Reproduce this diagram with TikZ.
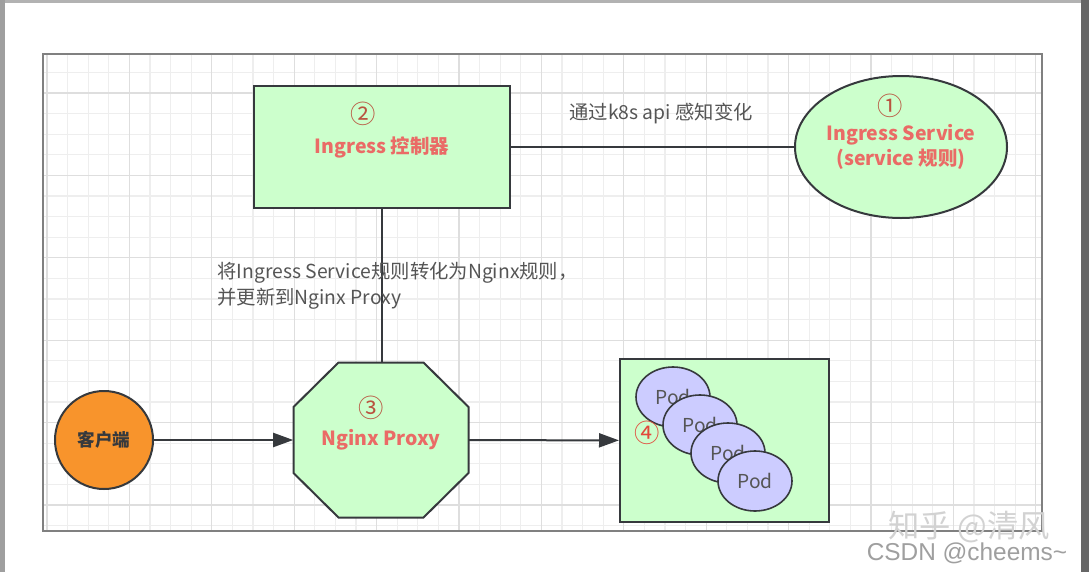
\documentclass[tikz,border=0pt]{standalone}
\usepackage{fontspec}
\setmainfont{Noto Sans CJK SC}
\newfontfamily\wmfont{Liberation Sans}
\usetikzlibrary{positioning,shapes.geometric,arrows.meta,calc}
\definecolor{boxgreen}{HTML}{CCFFCC}
\definecolor{podblue}{HTML}{CCCCFF}
\definecolor{clientorange}{HTML}{F8942C}
\definecolor{edgegray}{HTML}{36393D}
\definecolor{titlered}{HTML}{EA6B66}
\definecolor{numred}{HTML}{B9533F}
\definecolor{fourred}{HTML}{E2483A}
\definecolor{notegray}{HTML}{555555}
\definecolor{gridminor}{HTML}{EEEEEE}
\definecolor{gridmajor}{HTML}{DEDEDE}

\begin{document}
\begin{tikzpicture}[
                x=0.75pt,y=-0.75pt,
                box/.style={draw=edgegray,line width=1.5pt,fill=boxgreen},
                title/.style={text=titlered,align=center,
                    font=\bfseries\fontsize{14.6}{18.5}\selectfont},
                num/.style={text=numred,inner sep=0pt,font=\fontsize{19}{20}\selectfont},
                note/.style={text=notegray,align=left,
                    font=\fontsize{14.5}{19.5}\selectfont},
                pod/.style={ellipse,draw=edgegray,line width=1.2pt,fill=podblue,
                    minimum width=55.5pt,minimum height=45pt,text=notegray,
                    font=\fontsize{14.4}{16}\selectfont},
                link/.style={draw=edgegray,line width=1.5pt},
                flow/.style={link,-{Triangle[length=15pt,width=10.5pt]}}
            ]
                \fill[white] (0,0) rectangle (1089,572);
                \fill[gray!60] (0,0) rectangle (1089,3);
                \fill[gray!75] (0,0) rectangle (5,572);
                \fill[gray!80!black] (1081,0) rectangle (1089,572);
                \useasboundingbox (0,0) rectangle (1089,572);

                \begin{scope}
                    \clip (43,54) rectangle (1042,531);
                    \foreach \i [evaluate=\i as \gx using 47+20.6*\i] in {0,...,48}
                        \draw[gridminor,line width=1pt] (\gx,54) -- (\gx,531);
                    \foreach \j [evaluate=\j as \gy using 51.8+20.6*\j] in {0,...,23}
                        \draw[gridminor,line width=1pt] (43,\gy) -- (1042,\gy);
                    \foreach \i [evaluate=\i as \gx using 47+20.6*\i] in {0,4,...,48}
                        \draw[gridmajor,line width=1pt] (\gx,54) -- (\gx,531);
                    \foreach \j [evaluate=\j as \gy using 51.8+20.6*\j] in {2,6,...,22}
                        \draw[gridmajor,line width=1pt] (43,\gy) -- (1042,\gy);
                \end{scope}
                \draw[gray,line width=1pt] (43,54) rectangle (1042,531);

                \node[box,title,minimum width=192pt,minimum height=91.5pt] (ctrl) at (382,147) {Ingress 控制器};
                \node[num] (n2) at (363,114) {②};
                \node[box,title,ellipse,inner sep=0pt,minimum width=159pt,minimum height=106.5pt] (svc) at (901,147)
                    {Ingress Service\\(service 规则)};
                \node[num] (n1) at (890,106) {①};
                \coordinate (nc) at (381,440);
                \draw[box] ($(nc)+(-42.5,-77.5)$) -- ++(85,0) -- ++(45,44.5) -- ++(0,66)
                    -- ++(-45,44.5) -- ++(-85,0) -- ++(-45,-44.5) -- ++(0,-66) -- cycle;
                \node[title,minimum width=131.25pt,minimum height=116.25pt] (nginx) at (nc) {Nginx Proxy};
                \node[num] (n3) at (371,408) {③};
                \node[circle,draw=edgegray,line width=1.5pt,fill=clientorange,minimum size=73.5pt,
                    text=edgegray,font=\bfseries\fontsize{13.2}{15}\selectfont] (client) at (104,440) {客户端};
                \node[box,minimum width=156.75pt,minimum height=122.25pt] (pods) at (724.5,440.5) {};
                \foreach \k/\cx/\cy in {1/673/397,2/700/425,3/728/453,4/755/481}
                    \node[pod] (pod\k) at (\cx,\cy) {Pod};
                \node[num,text=fourred] (n4) at (647,433) {④};

                \draw[link] (ctrl) -- node[note,midway,xshift=6.4pt,yshift=24.75pt] {通过k8s api 感知变化} (svc);
                \draw[link] (ctrl.south) -- node[note,midway,anchor=west,xshift=-127.5pt]
                    {将Ingress Service规则转化为Nginx规则，\\并更新到Nginx Proxy} (ctrl.south |- nginx.north);
                \draw[flow] (client) -- (nginx);
                \draw[flow] (nginx) -- (pods);

                \node[text=gray!35,font=\fontsize{23.5}{25}\selectfont] (wm1) at (969,527) {知乎 @清风};
                \node[text=gray!75,font=\wmfont\fontsize{18.3}{20}\selectfont] (wm2) at (967,553) {CSDN @cheems\textasciitilde};
            \end{tikzpicture}
\end{document}
